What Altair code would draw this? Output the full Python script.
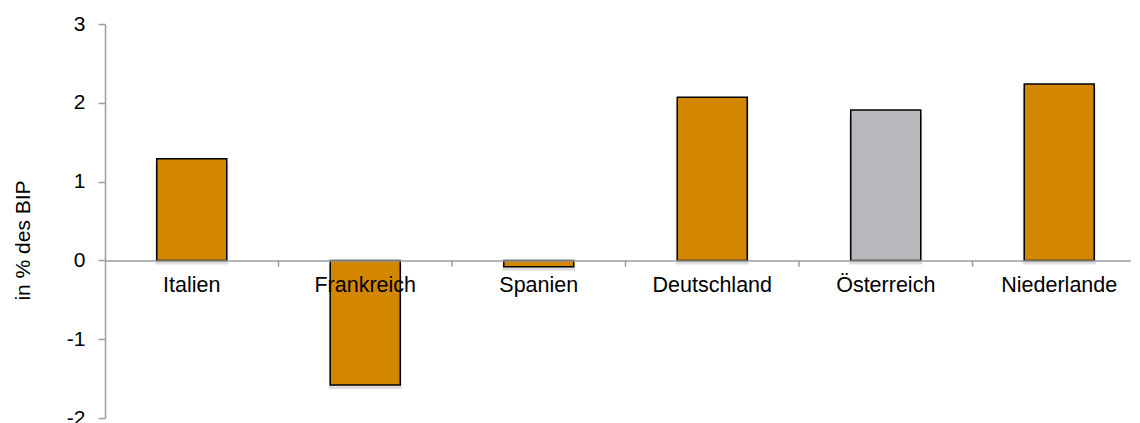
import altair as alt
import pandas as pd

countries = ["Italien", "Frankreich", "Spanien", "Deutschland", "Österreich", "Niederlande"]
values = [1.29, -1.58, -0.08, 2.07, 1.91, 2.24]
bar_colors = ["#D38700", "#D38700", "#D38700", "#D38700", "#B7B8BB", "#D38700"]
y_ticks = [-2, -1, 0, 1, 2, 3]

df = pd.DataFrame({"land": countries, "wert": values, "farbe": bar_colors})
tick_df = pd.DataFrame({"land": countries[1:]})

# full axis extents (the reference runs past the window on the right / bottom)
X_RANGE = 1041
Y_RANGE = 394
# visible view size
VIEW_W = 1026
VIEW_H = 399
AXIS_GRAY = "#9C9C9C"
FONT = "Liberation Sans"

x_scale = alt.Scale(domain=countries, paddingInner=0, paddingOuter=0, range=[0, X_RANGE])
y_scale = alt.Scale(domain=[-2, 3], nice=False, range=[Y_RANGE, 0])
zero_from_top = Y_RANGE * 3 / 5

x_axis = alt.Axis(
    title=None,
    ticks=False,
    domain=True,
    domainColor=AXIS_GRAY,
    domainWidth=1.5,
    labelAngle=0,
    labelAlign="center",
    labelBaseline="top",
    labelFontSize=21.5,
    labelFont=FONT,
    labelColor="#000000",
    labelPadding=14,
    offset=-(VIEW_H - zero_from_top),
    zindex=1,
)

y_axis = alt.Axis(
    values=y_ticks,
    grid=False,
    tickSize=7,
    tickColor=AXIS_GRAY,
    tickWidth=1.5,
    domainColor=AXIS_GRAY,
    domainWidth=1.5,
    labelFontSize=21,
    labelFont=FONT,
    labelColor="#000000",
    labelPadding=13,
    labelExpr="datum.value < 0 ? '-' + abs(datum.value) : '' + datum.value",
    title="in % des BIP",
    titleFont=FONT,
    titleFontSize=21,
    titleFontWeight="normal",
    titleColor="#000000",
    titleAngle=270,
    titleAlign="center",
    titleBaseline="alphabetic",
    titleX=-76,
    titleY=216,
)

base = alt.Chart(df)

shadow = base.mark_bar(width=73, color="#000000", opacity=0.13, yOffset=4).encode(
    x=alt.X("land:N", scale=x_scale, axis=x_axis),
    y=alt.Y("wert:Q", scale=y_scale, axis=y_axis),
)

bars = base.mark_bar(width=70, stroke="#000000", strokeWidth=1.5).encode(
    x=alt.X("land:N", scale=x_scale, axis=x_axis),
    y=alt.Y("wert:Q", scale=y_scale, axis=y_axis),
    color=alt.Color("farbe:N", scale=None, legend=None),
)

ticks = alt.Chart(tick_df).mark_rule(color=AXIS_GRAY, strokeWidth=1.5).encode(
    x=alt.X("land:N", scale=x_scale, bandPosition=0, axis=x_axis),
    y=alt.datum(0, scale=y_scale),
    y2=alt.datum(-0.08),
)

chart = alt.layer(shadow, bars, ticks).properties(
    width=VIEW_W,
    height=VIEW_H,
    autosize=alt.AutoSizeParams(type="none"),
    padding={"left": 97, "top": 16, "right": 0, "bottom": 0},
    background="#FFFFFF",
).configure_view(stroke=None)

chart.save("out.html", embed_options={"renderer": "svg", "actions": False})
